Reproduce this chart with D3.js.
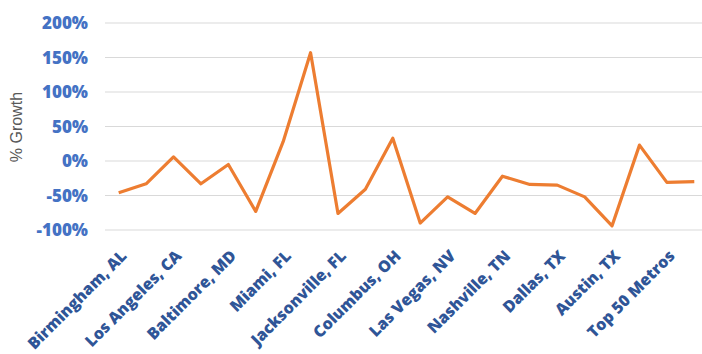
<!DOCTYPE html>
<html lang="en">
<head>
    <meta charset="UTF-8">
    <title>% Growth by Metro</title>
    <script src="https://d3js.org/d3.v7.min.js"></script>
    <style>
        body { margin: 0; background: #fff; }
        .grid line { stroke: #d9d9d9; stroke-width: 1.2px; }
        .ylab text { font-family: "Open Sans", sans-serif; font-weight: 800; font-size: 17px; fill: #4472C4; }
        .xlab text { font-family: "Open Sans", sans-serif; font-weight: 800; font-size: 16px; fill: #2F5597; }
        .ytitle { font-family: "Liberation Sans Narrow", "Liberation Sans", sans-serif; font-size: 16px; fill: #595959; }
    </style>
</head>
<body>
    <svg width="702" height="354"></svg>

    <script>
        // growth for each metro, in %; only every other metro is labelled on the axis
        const values = [-46, -33, 6, -33, -5, -73, 28, 157, -76, -41, 33,
                        -90, -52, -76, -22, -34, -35, -52, -94, 23, -31, -30];
        const shownLabels = ["Birmingham, AL", "Los Angeles, CA", "Baltimore, MD", "Miami, FL",
                             "Jacksonville, FL", "Columbus, OH", "Las Vegas, NV", "Nashville, TN",
                             "Dallas, TX", "Austin, TX", "Top 50 Metros"];
        const yTicks = [-100, -50, 0, 50, 100, 150, 200];

        const svg = d3.select("svg");

        const x = d3.scaleBand()
            .domain(d3.range(values.length))
            .range([105, 708]);

        const y = d3.scaleLinear()
            .domain([-100, 200])
            .range([230, 23]);

        // gridlines
        svg.append("g")
            .attr("class", "grid")
            .selectAll("line")
            .data(yTicks)
            .enter().append("line")
            .attr("x1", 105)
            .attr("x2", 702)
            .attr("y1", d => y(d))
            .attr("y2", d => y(d));

        // y tick labels
        svg.append("g")
            .attr("class", "ylab")
            .selectAll("text")
            .data(yTicks)
            .enter().append("text")
            .attr("x", 88)
            .attr("y", d => y(d))
            .attr("dy", "0.36em")
            .attr("text-anchor", "end")
            .text(d => d + "%");

        svg.append("text")
            .attr("class", "ytitle")
            .attr("transform", "translate(22,127) rotate(-90)")
            .attr("text-anchor", "middle")
            .text("% Growth");

        // x labels on every other category
        const cx = i => x(i) + x.bandwidth() / 2;
        svg.append("g")
            .attr("class", "xlab")
            .selectAll("text")
            .data(shownLabels)
            .enter().append("text")
            .attr("text-anchor", "end")
            .attr("transform", (d, i) => `translate(${cx(i * 2) + 9},${257}) rotate(-45)`)
            .text(d => d);

        const line = d3.line()
            .x((d, i) => cx(i))
            .y(d => y(d));

        svg.append("path")
            .datum(values)
            .attr("fill", "none")
            .attr("stroke", "#ED7D31")
            .attr("stroke-width", 3.2)
            .attr("stroke-linejoin", "round")
            .attr("d", line);
    </script>
</body>
</html>
